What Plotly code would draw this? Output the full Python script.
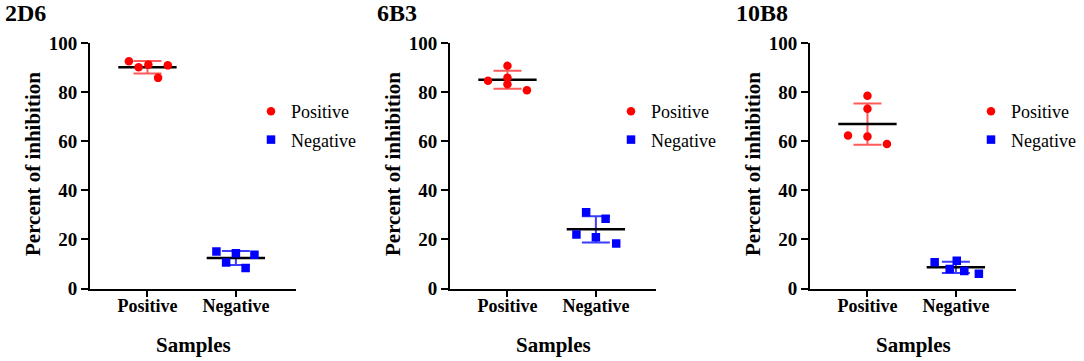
import numpy as np
import plotly.graph_objects as go

# ---------------- data ----------------
panel_titles = ["2D6", "6B3", "10B8"]
categories = ["Positive", "Negative"]
y_ticks = [0, 20, 40, 60, 80, 100]

p1_pos = [92.7, 90.2, 91.3, 91.0, 85.9]
p1_neg = [15.1, 14.4, 13.8, 10.6, 8.4]
p2_pos = [90.8, 84.7, 86.0, 83.3, 80.9]
p2_neg = [31.1, 28.4, 22.0, 20.9, 18.4]
p3_pos = [78.6, 73.3, 62.4, 62.0, 58.9]
p3_neg = [10.7, 11.3, 8.0, 7.1, 6.0]

# horizontal scatter (jitter) of each point within its category, in category units
p1_pos_jit = [-0.21, -0.10, 0.01, 0.23, 0.12]
p1_neg_jit = [-0.22, 0.0, 0.21, -0.11, 0.11]
p2_pos_jit = [0.0, -0.22, 0.0, 0.0, 0.22]
p2_neg_jit = [-0.11, 0.11, -0.22, 0.0, 0.23]
p3_pos_jit = [0.0, 0.0, -0.22, 0.0, 0.22]
p3_neg_jit = [-0.24, 0.01, -0.07, 0.095, 0.26]

panels = [
    (p1_pos, p1_pos_jit, p1_neg, p1_neg_jit),
    (p2_pos, p2_pos_jit, p2_neg, p2_neg_jit),
    (p3_pos, p3_pos_jit, p3_neg, p3_neg_jit),
]

# ---------------- styling ----------------
W, H = 1084, 361
FONT = "Liberation Serif"
RED, BLUE = "#ff0000", "#0000ff"
RED_ERR, BLUE_ERR = "#ff5a5a", "#3c3cff"
axis_left_px = [90, 450, 810]
axis_width_px = 206
y_bottom_px, y_top_px = 288.5, 43.3
x_range = [0.35, 2.68]
half_mean = 0.33

fig = go.Figure()
legend_names = ["legend", "legend2", "legend3"]

for i, (pos, pos_j, neg, neg_j) in enumerate(panels):
    xa = "x" if i == 0 else f"x{i+1}"
    ya = "y" if i == 0 else f"y{i+1}"
    groups = [
        (1, pos, pos_j, RED, RED_ERR, "circle", categories[0]),
        (2, neg, neg_j, BLUE, BLUE_ERR, "square", categories[1]),
    ]
    for cx, vals, jit, col, ecol, sym, name in groups:
        vals = np.array(vals)
        m = float(vals.mean())
        sd = float(vals.std(ddof=1))
        # error bar (mean ± SD)
        fig.add_trace(go.Scatter(
            x=[cx], y=[m], mode="markers", xaxis=xa, yaxis=ya,
            marker=dict(size=1, color=ecol),
            error_y=dict(type="data", array=[sd], color=ecol, thickness=2, width=14),
            showlegend=False, hoverinfo="skip"))
        # mean line
        fig.add_trace(go.Scatter(
            x=[cx - half_mean, cx + half_mean], y=[m, m], mode="lines",
            xaxis=xa, yaxis=ya, line=dict(color="black", width=2.5),
            showlegend=False, hoverinfo="skip"))
        # points
        fig.add_trace(go.Scatter(
            x=[cx + j for j in jit], y=vals, mode="markers", name=name,
            xaxis=xa, yaxis=ya,
            marker=dict(size=8.5, color=col, symbol=sym, line=dict(width=0)),
            legend=legend_names[i], legendgroup=f"{name}{i}", showlegend=True))

layout = dict(
    width=W, height=H, margin=dict(l=0, r=0, t=0, b=0, autoexpand=False),
    paper_bgcolor="white", plot_bgcolor="white", showlegend=True,
)

yd = [(H - y_bottom_px) / H, (H - y_top_px) / H]
annotations = []
title_x_px = [3, 375, 734]
for i in range(3):
    sx = "" if i == 0 else str(i + 1)
    x0 = axis_left_px[i] / W
    x1 = (axis_left_px[i] + axis_width_px) / W
    layout[f"xaxis{sx}"] = dict(
        domain=[x0, x1], range=x_range, anchor=f"y{sx}",
        tickvals=[1, 2], ticktext=categories,
        showline=True, linecolor="black", linewidth=2,
        ticks="outside", ticklen=6, tickwidth=2, tickcolor="black",
        ticklabelstandoff=-6,
        showgrid=False, zeroline=False,
        tickfont=dict(family=FONT, size=18, color="black", weight="bold"))
    layout[f"yaxis{sx}"] = dict(
        domain=yd, range=[0, 100], anchor=f"x{sx}",
        tickvals=y_ticks, showline=True, linecolor="black", linewidth=2,
        ticks="outside", ticklen=7, tickwidth=2, tickcolor="black",
        showgrid=False, zeroline=False,
        tickfont=dict(family=FONT, size=19, color="black", weight="bold"))
    layout[legend_names[i]] = dict(
        x=(axis_left_px[i] + 161) / W, y=(H - 93) / H,
        xanchor="left", yanchor="top", tracegroupgap=2,
        bgcolor="rgba(0,0,0,0)", borderwidth=0,
        font=dict(family=FONT, size=18, color="black"))
    # panel title
    annotations.append(dict(
        text=f"<b>{panel_titles[i]}</b>", xref="paper", yref="paper",
        x=title_x_px[i] / W, y=(H - 13) / H, xanchor="left", yanchor="middle",
        showarrow=False, font=dict(family=FONT, size=24, color="black")))
    # y title
    annotations.append(dict(
        text="<b>Percent of inhibition</b>", xref="paper", yref="paper",
        x=(axis_left_px[i] - 57) / W, y=(H - 164) / H, textangle=-90,
        xanchor="center", yanchor="middle", showarrow=False,
        font=dict(family=FONT, size=21, color="black")))
    # x title
    annotations.append(dict(
        text="<b>Samples</b>", xref="paper", yref="paper",
        x=(axis_left_px[i] + axis_width_px / 2) / W, y=(H - 345) / H,
        xanchor="center", yanchor="middle", showarrow=False,
        font=dict(family=FONT, size=21, color="black")))

layout["annotations"] = annotations
fig.update_layout(**layout)
fig.write_html("out.html", config={"displayModeBar": False},
               post_script="document.body.style.margin='0px';")
